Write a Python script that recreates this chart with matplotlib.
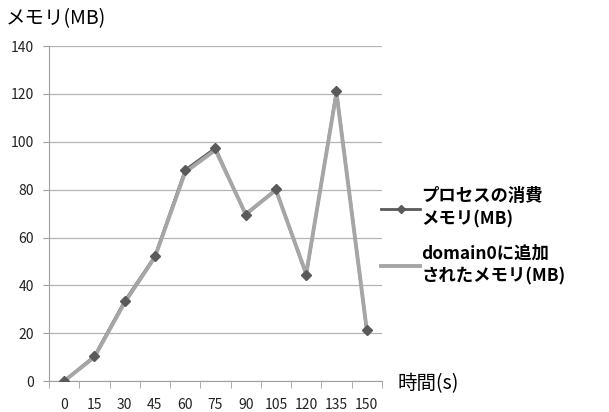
import matplotlib
matplotlib.use('Agg')
import matplotlib.pyplot as plt
from matplotlib.ticker import FixedLocator

plt.rcParams['font.family'] = ['Noto Sans CJK JP', 'DejaVu Sans']

# data
times = ['0', '15', '30', '45', '60', '75', '90', '105', '120', '135', '150']
process_mem = [0, 10.4, 33.4, 52.2, 88.2, 97.4, 69.4, 80.2, 44.3, 121.2, 21.3]
domain0_mem = [0, 10.0, 32.8, 51.8, 87.3, 96.6, 69.8, 79.8, 44.8, 120.5, 21.6]

fig = plt.figure(figsize=(6.09, 4.12), dpi=100)
ax = fig.add_axes([0.0805, 0.0752, 0.5465, 0.8128])

x = list(range(len(times)))

# process line (dark, diamonds) under the lighter domain0 line
ax.plot(x, process_mem, color='#5a5a5a', lw=2, zorder=3)
ax.plot(x, domain0_mem, color='#a6a6a6', lw=2.8, zorder=4)
ax.plot(x, process_mem, ls='none', marker='D', ms=5, color='#5a5a5a', zorder=5)

# legend handles
h1, = ax.plot([], [], color='#5a5a5a', lw=2, marker='D', ms=4)
h2, = ax.plot([], [], color='#a6a6a6', lw=2.8)
leg = ax.legend([h1, h2], ['プロセスの消費\nメモリ(MB)', 'domain0に追加\nされたメモリ(MB)'],
                loc='center left', bbox_to_anchor=(0.952, 0.432), frameon=False,
                handlelength=2.2, handletextpad=0.1, labelspacing=0.9,
                prop={'size': 12.5, 'weight': 'bold'})
for t in leg.get_texts():
    t.set_linespacing(1.4)

ax.set_xlim(-0.5, len(times) - 0.5)
ax.set_ylim(0, 140)
ax.set_yticks(range(0, 141, 20))
ax.set_xticks(x)
ax.set_xticklabels(times)
ax.xaxis.set_minor_locator(FixedLocator([i - 0.5 for i in range(len(times) + 1)]))
ax.tick_params(axis='x', which='major', length=0, pad=12, labelsize=10, colors='#222222')
ax.tick_params(axis='x', which='minor', length=5, color='#a0a0a0', direction='out')
ax.tick_params(axis='y', length=4, color='#a0a0a0', labelcolor='#222222', labelsize=10, pad=7)

ax.grid(axis='y', color='#b4b4b4', lw=0.9)
ax.set_axisbelow(True)
for s in ['top', 'right']:
    ax.spines[s].set_visible(False)
for s in ['left', 'bottom']:
    ax.spines[s].set_color('#a0a0a0')

fig.text(0.01, 0.955, 'メモリ(MB)', fontsize=14, va='center', ha='left')
fig.text(0.652, 0.07, '時間(s)', fontsize=14, va='center', ha='left')

fig.savefig('out.png', dpi=100)
